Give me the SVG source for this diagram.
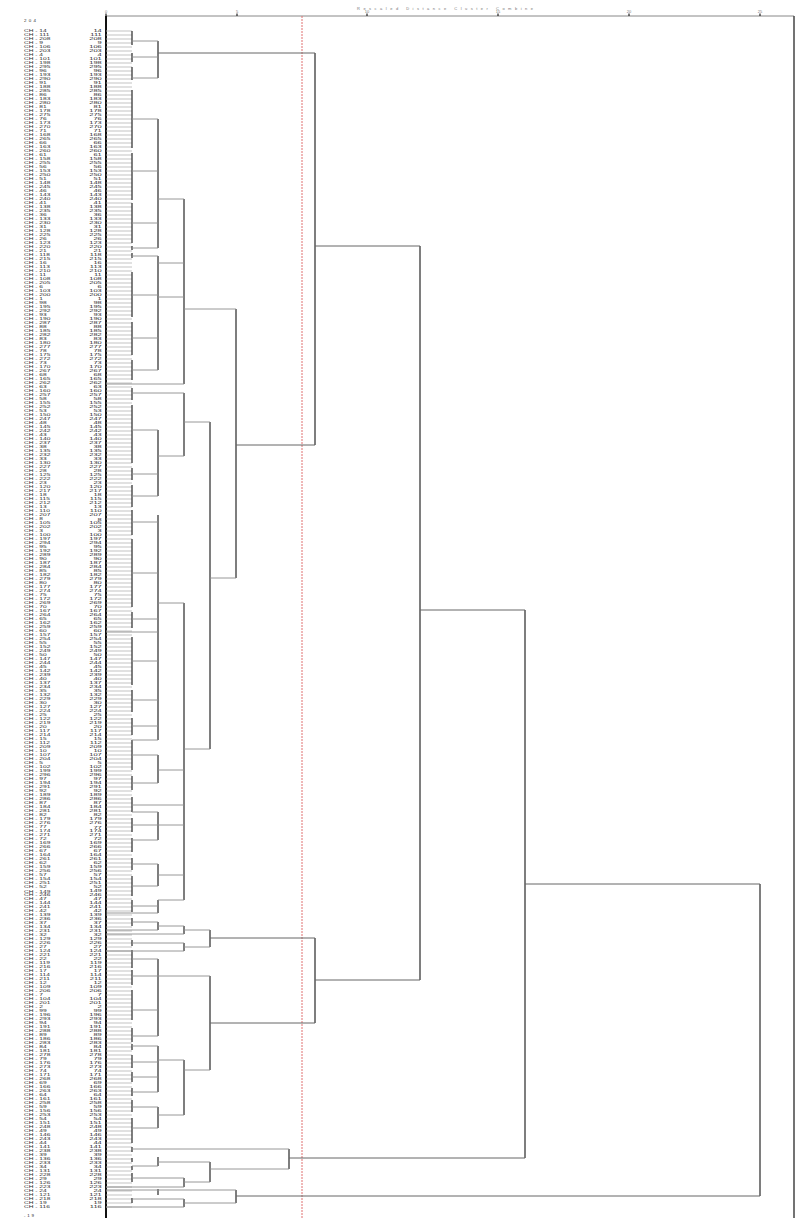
<svg xmlns="http://www.w3.org/2000/svg" width="800" height="1218" viewBox="0 0 800 1218">
<style>
text{font-family:"Liberation Sans",Arial,sans-serif;font-size:4.4px;fill:#2a2a2a}
#leaves text{transform-box:fill-box;transform-origin:0% 50%;transform:scaleX(1.5)}
#leaves text.n{text-anchor:end;transform-origin:100% 50%;transform:scaleX(1.7)}
.ax{fill:#777;font-size:4px}
.v{stroke:#3a3a3a;stroke-width:1.3;fill:none}
.h{stroke:#8c8c8c;stroke-width:0.9;fill:none}
.hm{stroke:#666;stroke-width:1;fill:none}
</style>
<defs>
<pattern id="rows" x="0" y="29" width="26" height="4" patternUnits="userSpaceOnUse">
<line x1="0" y1="2" x2="26" y2="2" stroke="#b4b4b4" stroke-width="0.8"/>
</pattern>
</defs>
<rect width="800" height="1218" fill="#fff"/>
<g id="axis">
<text class="ax" x="357" y="9.5" textLength="176" lengthAdjust="spacing">Rescaled Distance Cluster Combine</text>
<line x1="106" y1="16" x2="794" y2="16" stroke="#888" stroke-width="1"/>
<path d="M106 13.5V16M237 13.5V16M367 13.5V16M498 13.5V16M629 13.5V16M760 13.5V16" stroke="#222" stroke-width="1.2"/>
<text class="ax" x="106" y="12.5" text-anchor="middle">0</text>
<text class="ax" x="237" y="12.5" text-anchor="middle">5</text>
<text class="ax" x="367" y="12.5" text-anchor="middle">10</text>
<text class="ax" x="498" y="12.5" text-anchor="middle">15</text>
<text class="ax" x="629" y="12.5" text-anchor="middle">20</text>
<text class="ax" x="760" y="12.5" text-anchor="middle">25</text>
<line x1="106" y1="16" x2="106" y2="1218" stroke="#111" stroke-width="2"/>
<line x1="794" y1="16" x2="794" y2="1218" stroke="#444" stroke-width="1.5"/>
<line x1="302" y1="16" x2="302" y2="1218" stroke="#e07070" stroke-width="1" stroke-dasharray="2 1"/>
<text x="24" y="21.5" textLength="12">204</text>
<text x="24" y="1217" textLength="10">-19</text>
</g>
<g id="connectors">
<rect x="106" y="29" width="26" height="1180" fill="url(#rows)"/>
<path class="v" d="M132 31V45M132 53V62M132 67V80M132 90V148M132 153V200M132 203V243M132 246V250M132 253V258M132 272V317M132 322V355M132 360V380M132 388V400M132 405V463M132 468V480M132 485V507M132 510V535M132 539V607M132 612V628M132 637V685M132 690V712M132 718V735M132 740V770M132 776V790M132 797V812M132 818V832M132 838V852M132 858V870M132 876V896M132 900V912M132 918V926M132 940V946M132 950V968M132 970V985M132 990V1020M132 1028V1042M132 1044V1050M132 1055V1068M132 1072V1082M132 1088V1096M132 1100V1112M132 1118V1143M132 1147V1152M132 1158V1162M132 1166V1170M132 1173V1182M132 1198V1203"/>
<path class="v" d="M158 41V78M158 119V248M158 256V370M158 430V496M158 515V740M158 755V783M158 812V840M158 864V886M158 900V913M158 922V930M158 959V1036M158 1046V1092M158 1107V1128M158 1157V1166M158 1189V1195"/>
<path class="v" d="M184 199V384M184 393V456M184 603V900M184 926V934M184 943V951M184 1060V1115M184 1178V1187M184 1199V1207"/>
<path class="v" d="M210 422V749M210 930V947M210 976V1070M210 1162V1182M236 309V578M236 1190V1203M289 1149V1169M315 53V445M315 938V1023"/>
<path class="v" d="M420 246V980M525 610V1158M760 884V1196"/>
<path class="h" d="M132 41H158M132 57H158M132 78H158M132 119H158M132 171H158M132 223H158M132 248H158M132 256H158M132 295H158M132 338H158M132 370H158M132 430H158M132 474H158M132 496H158M132 522H158M132 573H158M132 619H158M132 661H158M132 700H158M132 726H158M132 740H158M132 755H158M132 783H158M132 805H184M132 812H158M132 825H158M132 840H158M132 864H158M132 886H158M132 906H158M132 922H158M132 959H158M132 1010H158M132 1036H158M132 1046H158M132 1062H158M132 1077H158M132 1092H158M132 1107H158M132 1128H158M132 1166H158"/>
<path class="h" d="M106 632H158M106 913H158M106 930H158M106 1190H158M132 393H184M132 943H184M132 1178H184M132 1199H184M106 384H184M106 934H184M106 951H184M106 1187H184M106 1207H184M132 976H210M132 1149H289"/>
<path class="h" d="M158 199H184M158 263H184M158 297H184M158 456H184M158 603H184M158 770H184M158 825H184M158 875H184M158 900H184M158 926H184M158 1060H184M158 1115H184M158 1162H210M158 1190H236M184 422H210M184 749H210M184 930H210M184 947H210M184 1070H210M184 1182H210M184 309H236M184 1203H236M210 578H236M210 1169H289"/>
<path class="hm" d="M158 53H315M210 938H315M210 1023H315M236 445H315M236 1196H760M289 1158H525M315 246H420M315 980H420M420 610H525M525 884H760"/>
</g>
<g id="leaves">
<g id="L0"><text x="24" y="32.5">CH - 14</text><text class="n" x="102" y="32.5">14</text></g>
<g id="L1"><text x="24" y="36.5">CH - 111</text><text class="n" x="102" y="36.5">111</text></g>
<g id="L2"><text x="24" y="40.5">CH - 208</text><text class="n" x="102" y="40.5">208</text></g>
<g id="L3"><text x="24" y="44.5">CH - 9</text><text class="n" x="102" y="44.5">9</text></g>
<g id="L4"><text x="24" y="48.5">CH - 106</text><text class="n" x="102" y="48.5">106</text></g>
<g id="L5"><text x="24" y="52.5">CH - 203</text><text class="n" x="102" y="52.5">203</text></g>
<g id="L6"><text x="24" y="56.5">CH - 4</text><text class="n" x="102" y="56.5">4</text></g>
<g id="L7"><text x="24" y="60.5">CH - 101</text><text class="n" x="102" y="60.5">101</text></g>
<g id="L8"><text x="24" y="64.5">CH - 198</text><text class="n" x="102" y="64.5">198</text></g>
<g id="L9"><text x="24" y="68.5">CH - 295</text><text class="n" x="102" y="68.5">295</text></g>
<g id="L10"><text x="24" y="72.5">CH - 96</text><text class="n" x="102" y="72.5">96</text></g>
<g id="L11"><text x="24" y="76.5">CH - 193</text><text class="n" x="102" y="76.5">193</text></g>
<g id="L12"><text x="24" y="80.5">CH - 290</text><text class="n" x="102" y="80.5">290</text></g>
<g id="L13"><text x="24" y="84.5">CH - 91</text><text class="n" x="102" y="84.5">91</text></g>
<g id="L14"><text x="24" y="88.5">CH - 188</text><text class="n" x="102" y="88.5">188</text></g>
<g id="L15"><text x="24" y="92.5">CH - 285</text><text class="n" x="102" y="92.5">285</text></g>
<g id="L16"><text x="24" y="96.5">CH - 86</text><text class="n" x="102" y="96.5">86</text></g>
<g id="L17"><text x="24" y="100.5">CH - 183</text><text class="n" x="102" y="100.5">183</text></g>
<g id="L18"><text x="24" y="104.5">CH - 280</text><text class="n" x="102" y="104.5">280</text></g>
<g id="L19"><text x="24" y="108.5">CH - 81</text><text class="n" x="102" y="108.5">81</text></g>
<g id="L20"><text x="24" y="112.5">CH - 178</text><text class="n" x="102" y="112.5">178</text></g>
<g id="L21"><text x="24" y="116.5">CH - 275</text><text class="n" x="102" y="116.5">275</text></g>
<g id="L22"><text x="24" y="120.5">CH - 76</text><text class="n" x="102" y="120.5">76</text></g>
<g id="L23"><text x="24" y="124.5">CH - 173</text><text class="n" x="102" y="124.5">173</text></g>
<g id="L24"><text x="24" y="128.5">CH - 270</text><text class="n" x="102" y="128.5">270</text></g>
<g id="L25"><text x="24" y="132.5">CH - 71</text><text class="n" x="102" y="132.5">71</text></g>
<g id="L26"><text x="24" y="136.5">CH - 168</text><text class="n" x="102" y="136.5">168</text></g>
<g id="L27"><text x="24" y="140.5">CH - 265</text><text class="n" x="102" y="140.5">265</text></g>
<g id="L28"><text x="24" y="144.5">CH - 66</text><text class="n" x="102" y="144.5">66</text></g>
<g id="L29"><text x="24" y="148.5">CH - 163</text><text class="n" x="102" y="148.5">163</text></g>
<g id="L30"><text x="24" y="152.5">CH - 260</text><text class="n" x="102" y="152.5">260</text></g>
<g id="L31"><text x="24" y="156.5">CH - 61</text><text class="n" x="102" y="156.5">61</text></g>
<g id="L32"><text x="24" y="160.5">CH - 158</text><text class="n" x="102" y="160.5">158</text></g>
<g id="L33"><text x="24" y="164.5">CH - 255</text><text class="n" x="102" y="164.5">255</text></g>
<g id="L34"><text x="24" y="168.5">CH - 56</text><text class="n" x="102" y="168.5">56</text></g>
<g id="L35"><text x="24" y="172.5">CH - 153</text><text class="n" x="102" y="172.5">153</text></g>
<g id="L36"><text x="24" y="176.5">CH - 250</text><text class="n" x="102" y="176.5">250</text></g>
<g id="L37"><text x="24" y="180.5">CH - 51</text><text class="n" x="102" y="180.5">51</text></g>
<g id="L38"><text x="24" y="184.5">CH - 148</text><text class="n" x="102" y="184.5">148</text></g>
<g id="L39"><text x="24" y="188.5">CH - 245</text><text class="n" x="102" y="188.5">245</text></g>
<g id="L40"><text x="24" y="192.5">CH - 46</text><text class="n" x="102" y="192.5">46</text></g>
<g id="L41"><text x="24" y="196.5">CH - 143</text><text class="n" x="102" y="196.5">143</text></g>
<g id="L42"><text x="24" y="200.5">CH - 240</text><text class="n" x="102" y="200.5">240</text></g>
<g id="L43"><text x="24" y="204.5">CH - 41</text><text class="n" x="102" y="204.5">41</text></g>
<g id="L44"><text x="24" y="208.5">CH - 138</text><text class="n" x="102" y="208.5">138</text></g>
<g id="L45"><text x="24" y="212.5">CH - 235</text><text class="n" x="102" y="212.5">235</text></g>
<g id="L46"><text x="24" y="216.5">CH - 36</text><text class="n" x="102" y="216.5">36</text></g>
<g id="L47"><text x="24" y="220.5">CH - 133</text><text class="n" x="102" y="220.5">133</text></g>
<g id="L48"><text x="24" y="224.5">CH - 230</text><text class="n" x="102" y="224.5">230</text></g>
<g id="L49"><text x="24" y="228.5">CH - 31</text><text class="n" x="102" y="228.5">31</text></g>
<g id="L50"><text x="24" y="232.5">CH - 128</text><text class="n" x="102" y="232.5">128</text></g>
<g id="L51"><text x="24" y="236.5">CH - 225</text><text class="n" x="102" y="236.5">225</text></g>
<g id="L52"><text x="24" y="240.5">CH - 26</text><text class="n" x="102" y="240.5">26</text></g>
<g id="L53"><text x="24" y="244.5">CH - 123</text><text class="n" x="102" y="244.5">123</text></g>
<g id="L54"><text x="24" y="248.5">CH - 220</text><text class="n" x="102" y="248.5">220</text></g>
<g id="L55"><text x="24" y="252.5">CH - 21</text><text class="n" x="102" y="252.5">21</text></g>
<g id="L56"><text x="24" y="256.5">CH - 118</text><text class="n" x="102" y="256.5">118</text></g>
<g id="L57"><text x="24" y="260.5">CH - 215</text><text class="n" x="102" y="260.5">215</text></g>
<g id="L58"><text x="24" y="264.5">CH - 16</text><text class="n" x="102" y="264.5">16</text></g>
<g id="L59"><text x="24" y="268.5">CH - 113</text><text class="n" x="102" y="268.5">113</text></g>
<g id="L60"><text x="24" y="272.5">CH - 210</text><text class="n" x="102" y="272.5">210</text></g>
<g id="L61"><text x="24" y="276.5">CH - 11</text><text class="n" x="102" y="276.5">11</text></g>
<g id="L62"><text x="24" y="280.5">CH - 108</text><text class="n" x="102" y="280.5">108</text></g>
<g id="L63"><text x="24" y="284.5">CH - 205</text><text class="n" x="102" y="284.5">205</text></g>
<g id="L64"><text x="24" y="288.5">CH - 6</text><text class="n" x="102" y="288.5">6</text></g>
<g id="L65"><text x="24" y="292.5">CH - 103</text><text class="n" x="102" y="292.5">103</text></g>
<g id="L66"><text x="24" y="296.5">CH - 200</text><text class="n" x="102" y="296.5">200</text></g>
<g id="L67"><text x="24" y="300.5">CH - 1</text><text class="n" x="102" y="300.5">1</text></g>
<g id="L68"><text x="24" y="304.5">CH - 98</text><text class="n" x="102" y="304.5">98</text></g>
<g id="L69"><text x="24" y="308.5">CH - 195</text><text class="n" x="102" y="308.5">195</text></g>
<g id="L70"><text x="24" y="312.5">CH - 292</text><text class="n" x="102" y="312.5">292</text></g>
<g id="L71"><text x="24" y="316.5">CH - 93</text><text class="n" x="102" y="316.5">93</text></g>
<g id="L72"><text x="24" y="320.5">CH - 190</text><text class="n" x="102" y="320.5">190</text></g>
<g id="L73"><text x="24" y="324.5">CH - 287</text><text class="n" x="102" y="324.5">287</text></g>
<g id="L74"><text x="24" y="328.5">CH - 88</text><text class="n" x="102" y="328.5">88</text></g>
<g id="L75"><text x="24" y="332.5">CH - 185</text><text class="n" x="102" y="332.5">185</text></g>
<g id="L76"><text x="24" y="336.5">CH - 282</text><text class="n" x="102" y="336.5">282</text></g>
<g id="L77"><text x="24" y="340.5">CH - 83</text><text class="n" x="102" y="340.5">83</text></g>
<g id="L78"><text x="24" y="344.5">CH - 180</text><text class="n" x="102" y="344.5">180</text></g>
<g id="L79"><text x="24" y="348.5">CH - 277</text><text class="n" x="102" y="348.5">277</text></g>
<g id="L80"><text x="24" y="352.5">CH - 78</text><text class="n" x="102" y="352.5">78</text></g>
<g id="L81"><text x="24" y="356.5">CH - 175</text><text class="n" x="102" y="356.5">175</text></g>
<g id="L82"><text x="24" y="360.5">CH - 272</text><text class="n" x="102" y="360.5">272</text></g>
<g id="L83"><text x="24" y="364.5">CH - 73</text><text class="n" x="102" y="364.5">73</text></g>
<g id="L84"><text x="24" y="368.5">CH - 170</text><text class="n" x="102" y="368.5">170</text></g>
<g id="L85"><text x="24" y="372.5">CH - 267</text><text class="n" x="102" y="372.5">267</text></g>
<g id="L86"><text x="24" y="376.5">CH - 68</text><text class="n" x="102" y="376.5">68</text></g>
<g id="L87"><text x="24" y="380.5">CH - 165</text><text class="n" x="102" y="380.5">165</text></g>
<g id="L88"><text x="24" y="384.5">CH - 262</text><text class="n" x="102" y="384.5">262</text></g>
<g id="L89"><text x="24" y="388.5">CH - 63</text><text class="n" x="102" y="388.5">63</text></g>
<g id="L90"><text x="24" y="392.5">CH - 160</text><text class="n" x="102" y="392.5">160</text></g>
<g id="L91"><text x="24" y="396.5">CH - 257</text><text class="n" x="102" y="396.5">257</text></g>
<g id="L92"><text x="24" y="400.5">CH - 58</text><text class="n" x="102" y="400.5">58</text></g>
<g id="L93"><text x="24" y="404.5">CH - 155</text><text class="n" x="102" y="404.5">155</text></g>
<g id="L94"><text x="24" y="408.5">CH - 252</text><text class="n" x="102" y="408.5">252</text></g>
<g id="L95"><text x="24" y="412.5">CH - 53</text><text class="n" x="102" y="412.5">53</text></g>
<g id="L96"><text x="24" y="416.5">CH - 150</text><text class="n" x="102" y="416.5">150</text></g>
<g id="L97"><text x="24" y="420.5">CH - 247</text><text class="n" x="102" y="420.5">247</text></g>
<g id="L98"><text x="24" y="424.5">CH - 48</text><text class="n" x="102" y="424.5">48</text></g>
<g id="L99"><text x="24" y="428.5">CH - 145</text><text class="n" x="102" y="428.5">145</text></g>
<g id="L100"><text x="24" y="432.5">CH - 242</text><text class="n" x="102" y="432.5">242</text></g>
<g id="L101"><text x="24" y="436.5">CH - 43</text><text class="n" x="102" y="436.5">43</text></g>
<g id="L102"><text x="24" y="440.5">CH - 140</text><text class="n" x="102" y="440.5">140</text></g>
<g id="L103"><text x="24" y="444.5">CH - 237</text><text class="n" x="102" y="444.5">237</text></g>
<g id="L104"><text x="24" y="448.5">CH - 38</text><text class="n" x="102" y="448.5">38</text></g>
<g id="L105"><text x="24" y="452.5">CH - 135</text><text class="n" x="102" y="452.5">135</text></g>
<g id="L106"><text x="24" y="456.5">CH - 232</text><text class="n" x="102" y="456.5">232</text></g>
<g id="L107"><text x="24" y="460.5">CH - 33</text><text class="n" x="102" y="460.5">33</text></g>
<g id="L108"><text x="24" y="464.5">CH - 130</text><text class="n" x="102" y="464.5">130</text></g>
<g id="L109"><text x="24" y="468.5">CH - 227</text><text class="n" x="102" y="468.5">227</text></g>
<g id="L110"><text x="24" y="472.5">CH - 28</text><text class="n" x="102" y="472.5">28</text></g>
<g id="L111"><text x="24" y="476.5">CH - 125</text><text class="n" x="102" y="476.5">125</text></g>
<g id="L112"><text x="24" y="480.5">CH - 222</text><text class="n" x="102" y="480.5">222</text></g>
<g id="L113"><text x="24" y="484.5">CH - 23</text><text class="n" x="102" y="484.5">23</text></g>
<g id="L114"><text x="24" y="488.5">CH - 120</text><text class="n" x="102" y="488.5">120</text></g>
<g id="L115"><text x="24" y="492.5">CH - 217</text><text class="n" x="102" y="492.5">217</text></g>
<g id="L116"><text x="24" y="496.5">CH - 18</text><text class="n" x="102" y="496.5">18</text></g>
<g id="L117"><text x="24" y="500.5">CH - 115</text><text class="n" x="102" y="500.5">115</text></g>
<g id="L118"><text x="24" y="504.5">CH - 212</text><text class="n" x="102" y="504.5">212</text></g>
<g id="L119"><text x="24" y="508.5">CH - 13</text><text class="n" x="102" y="508.5">13</text></g>
<g id="L120"><text x="24" y="512.5">CH - 110</text><text class="n" x="102" y="512.5">110</text></g>
<g id="L121"><text x="24" y="516.5">CH - 207</text><text class="n" x="102" y="516.5">207</text></g>
<g id="L122"><text x="24" y="520.5">CH - 8</text><text class="n" x="102" y="520.5">8</text></g>
<g id="L123"><text x="24" y="524.5">CH - 105</text><text class="n" x="102" y="524.5">105</text></g>
<g id="L124"><text x="24" y="528.5">CH - 202</text><text class="n" x="102" y="528.5">202</text></g>
<g id="L125"><text x="24" y="532.5">CH - 3</text><text class="n" x="102" y="532.5">3</text></g>
<g id="L126"><text x="24" y="536.5">CH - 100</text><text class="n" x="102" y="536.5">100</text></g>
<g id="L127"><text x="24" y="540.5">CH - 197</text><text class="n" x="102" y="540.5">197</text></g>
<g id="L128"><text x="24" y="544.5">CH - 294</text><text class="n" x="102" y="544.5">294</text></g>
<g id="L129"><text x="24" y="548.5">CH - 95</text><text class="n" x="102" y="548.5">95</text></g>
<g id="L130"><text x="24" y="552.5">CH - 192</text><text class="n" x="102" y="552.5">192</text></g>
<g id="L131"><text x="24" y="556.5">CH - 289</text><text class="n" x="102" y="556.5">289</text></g>
<g id="L132"><text x="24" y="560.5">CH - 90</text><text class="n" x="102" y="560.5">90</text></g>
<g id="L133"><text x="24" y="564.5">CH - 187</text><text class="n" x="102" y="564.5">187</text></g>
<g id="L134"><text x="24" y="568.5">CH - 284</text><text class="n" x="102" y="568.5">284</text></g>
<g id="L135"><text x="24" y="572.5">CH - 85</text><text class="n" x="102" y="572.5">85</text></g>
<g id="L136"><text x="24" y="576.5">CH - 182</text><text class="n" x="102" y="576.5">182</text></g>
<g id="L137"><text x="24" y="580.5">CH - 279</text><text class="n" x="102" y="580.5">279</text></g>
<g id="L138"><text x="24" y="584.5">CH - 80</text><text class="n" x="102" y="584.5">80</text></g>
<g id="L139"><text x="24" y="588.5">CH - 177</text><text class="n" x="102" y="588.5">177</text></g>
<g id="L140"><text x="24" y="592.5">CH - 274</text><text class="n" x="102" y="592.5">274</text></g>
<g id="L141"><text x="24" y="596.5">CH - 75</text><text class="n" x="102" y="596.5">75</text></g>
<g id="L142"><text x="24" y="600.5">CH - 172</text><text class="n" x="102" y="600.5">172</text></g>
<g id="L143"><text x="24" y="604.5">CH - 269</text><text class="n" x="102" y="604.5">269</text></g>
<g id="L144"><text x="24" y="608.5">CH - 70</text><text class="n" x="102" y="608.5">70</text></g>
<g id="L145"><text x="24" y="612.5">CH - 167</text><text class="n" x="102" y="612.5">167</text></g>
<g id="L146"><text x="24" y="616.5">CH - 264</text><text class="n" x="102" y="616.5">264</text></g>
<g id="L147"><text x="24" y="620.5">CH - 65</text><text class="n" x="102" y="620.5">65</text></g>
<g id="L148"><text x="24" y="624.5">CH - 162</text><text class="n" x="102" y="624.5">162</text></g>
<g id="L149"><text x="24" y="628.5">CH - 259</text><text class="n" x="102" y="628.5">259</text></g>
<g id="L150"><text x="24" y="632.5">CH - 60</text><text class="n" x="102" y="632.5">60</text></g>
<g id="L151"><text x="24" y="636.5">CH - 157</text><text class="n" x="102" y="636.5">157</text></g>
<g id="L152"><text x="24" y="640.5">CH - 254</text><text class="n" x="102" y="640.5">254</text></g>
<g id="L153"><text x="24" y="644.5">CH - 55</text><text class="n" x="102" y="644.5">55</text></g>
<g id="L154"><text x="24" y="648.5">CH - 152</text><text class="n" x="102" y="648.5">152</text></g>
<g id="L155"><text x="24" y="652.5">CH - 249</text><text class="n" x="102" y="652.5">249</text></g>
<g id="L156"><text x="24" y="656.5">CH - 50</text><text class="n" x="102" y="656.5">50</text></g>
<g id="L157"><text x="24" y="660.5">CH - 147</text><text class="n" x="102" y="660.5">147</text></g>
<g id="L158"><text x="24" y="664.5">CH - 244</text><text class="n" x="102" y="664.5">244</text></g>
<g id="L159"><text x="24" y="668.5">CH - 45</text><text class="n" x="102" y="668.5">45</text></g>
<g id="L160"><text x="24" y="672.5">CH - 142</text><text class="n" x="102" y="672.5">142</text></g>
<g id="L161"><text x="24" y="676.5">CH - 239</text><text class="n" x="102" y="676.5">239</text></g>
<g id="L162"><text x="24" y="680.5">CH - 40</text><text class="n" x="102" y="680.5">40</text></g>
<g id="L163"><text x="24" y="684.5">CH - 137</text><text class="n" x="102" y="684.5">137</text></g>
<g id="L164"><text x="24" y="688.5">CH - 234</text><text class="n" x="102" y="688.5">234</text></g>
<g id="L165"><text x="24" y="692.5">CH - 35</text><text class="n" x="102" y="692.5">35</text></g>
<g id="L166"><text x="24" y="696.5">CH - 132</text><text class="n" x="102" y="696.5">132</text></g>
<g id="L167"><text x="24" y="700.5">CH - 229</text><text class="n" x="102" y="700.5">229</text></g>
<g id="L168"><text x="24" y="704.5">CH - 30</text><text class="n" x="102" y="704.5">30</text></g>
<g id="L169"><text x="24" y="708.5">CH - 127</text><text class="n" x="102" y="708.5">127</text></g>
<g id="L170"><text x="24" y="712.5">CH - 224</text><text class="n" x="102" y="712.5">224</text></g>
<g id="L171"><text x="24" y="716.5">CH - 25</text><text class="n" x="102" y="716.5">25</text></g>
<g id="L172"><text x="24" y="720.5">CH - 122</text><text class="n" x="102" y="720.5">122</text></g>
<g id="L173"><text x="24" y="724.5">CH - 219</text><text class="n" x="102" y="724.5">219</text></g>
<g id="L174"><text x="24" y="728.5">CH - 20</text><text class="n" x="102" y="728.5">20</text></g>
<g id="L175"><text x="24" y="732.5">CH - 117</text><text class="n" x="102" y="732.5">117</text></g>
<g id="L176"><text x="24" y="736.5">CH - 214</text><text class="n" x="102" y="736.5">214</text></g>
<g id="L177"><text x="24" y="740.5">CH - 15</text><text class="n" x="102" y="740.5">15</text></g>
<g id="L178"><text x="24" y="744.5">CH - 112</text><text class="n" x="102" y="744.5">112</text></g>
<g id="L179"><text x="24" y="748.5">CH - 209</text><text class="n" x="102" y="748.5">209</text></g>
<g id="L180"><text x="24" y="752.5">CH - 10</text><text class="n" x="102" y="752.5">10</text></g>
<g id="L181"><text x="24" y="756.5">CH - 107</text><text class="n" x="102" y="756.5">107</text></g>
<g id="L182"><text x="24" y="760.5">CH - 204</text><text class="n" x="102" y="760.5">204</text></g>
<g id="L183"><text x="24" y="764.5">CH - 5</text><text class="n" x="102" y="764.5">5</text></g>
<g id="L184"><text x="24" y="768.5">CH - 102</text><text class="n" x="102" y="768.5">102</text></g>
<g id="L185"><text x="24" y="772.5">CH - 199</text><text class="n" x="102" y="772.5">199</text></g>
<g id="L186"><text x="24" y="776.5">CH - 296</text><text class="n" x="102" y="776.5">296</text></g>
<g id="L187"><text x="24" y="780.5">CH - 97</text><text class="n" x="102" y="780.5">97</text></g>
<g id="L188"><text x="24" y="784.5">CH - 194</text><text class="n" x="102" y="784.5">194</text></g>
<g id="L189"><text x="24" y="788.5">CH - 291</text><text class="n" x="102" y="788.5">291</text></g>
<g id="L190"><text x="24" y="792.5">CH - 92</text><text class="n" x="102" y="792.5">92</text></g>
<g id="L191"><text x="24" y="796.5">CH - 189</text><text class="n" x="102" y="796.5">189</text></g>
<g id="L192"><text x="24" y="800.5">CH - 286</text><text class="n" x="102" y="800.5">286</text></g>
<g id="L193"><text x="24" y="804.5">CH - 87</text><text class="n" x="102" y="804.5">87</text></g>
<g id="L194"><text x="24" y="808.5">CH - 184</text><text class="n" x="102" y="808.5">184</text></g>
<g id="L195"><text x="24" y="812.5">CH - 281</text><text class="n" x="102" y="812.5">281</text></g>
<g id="L196"><text x="24" y="816.5">CH - 82</text><text class="n" x="102" y="816.5">82</text></g>
<g id="L197"><text x="24" y="820.5">CH - 179</text><text class="n" x="102" y="820.5">179</text></g>
<g id="L198"><text x="24" y="824.5">CH - 276</text><text class="n" x="102" y="824.5">276</text></g>
<g id="L199"><text x="24" y="828.5">CH - 77</text><text class="n" x="102" y="828.5">77</text></g>
<g id="L200"><text x="24" y="832.5">CH - 174</text><text class="n" x="102" y="832.5">174</text></g>
<g id="L201"><text x="24" y="836.5">CH - 271</text><text class="n" x="102" y="836.5">271</text></g>
<g id="L202"><text x="24" y="840.5">CH - 72</text><text class="n" x="102" y="840.5">72</text></g>
<g id="L203"><text x="24" y="844.5">CH - 169</text><text class="n" x="102" y="844.5">169</text></g>
<g id="L204"><text x="24" y="848.5">CH - 266</text><text class="n" x="102" y="848.5">266</text></g>
<g id="L205"><text x="24" y="852.5">CH - 67</text><text class="n" x="102" y="852.5">67</text></g>
<g id="L206"><text x="24" y="856.5">CH - 164</text><text class="n" x="102" y="856.5">164</text></g>
<g id="L207"><text x="24" y="860.5">CH - 261</text><text class="n" x="102" y="860.5">261</text></g>
<g id="L208"><text x="24" y="864.5">CH - 62</text><text class="n" x="102" y="864.5">62</text></g>
<g id="L209"><text x="24" y="868.5">CH - 159</text><text class="n" x="102" y="868.5">159</text></g>
<g id="L210"><text x="24" y="872.5">CH - 256</text><text class="n" x="102" y="872.5">256</text></g>
<g id="L211"><text x="24" y="876.5">CH - 57</text><text class="n" x="102" y="876.5">57</text></g>
<g id="L212"><text x="24" y="880.5">CH - 154</text><text class="n" x="102" y="880.5">154</text></g>
<g id="L213"><text x="24" y="884.5">CH - 251</text><text class="n" x="102" y="884.5">251</text></g>
<g id="L214"><text x="24" y="888.5">CH - 52</text><text class="n" x="102" y="888.5">52</text></g>
<g id="L215"><text x="24" y="892.5">CH - 149</text><text class="n" x="102" y="892.5">149</text></g>
<g id="L216"><text x="24" y="896.5">CH - 246</text><text class="n" x="102" y="896.5">246</text></g>
<g id="L217"><text x="24" y="900.5">CH - 47</text><text class="n" x="102" y="900.5">47</text></g>
<g id="L218"><text x="24" y="904.5">CH - 144</text><text class="n" x="102" y="904.5">144</text></g>
<g id="L219"><text x="24" y="908.5">CH - 241</text><text class="n" x="102" y="908.5">241</text></g>
<g id="L220"><text x="24" y="912.5">CH - 42</text><text class="n" x="102" y="912.5">42</text></g>
<g id="L221"><text x="24" y="916.5">CH - 139</text><text class="n" x="102" y="916.5">139</text></g>
<g id="L222"><text x="24" y="920.5">CH - 236</text><text class="n" x="102" y="920.5">236</text></g>
<g id="L223"><text x="24" y="924.5">CH - 37</text><text class="n" x="102" y="924.5">37</text></g>
<g id="L224"><text x="24" y="928.5">CH - 134</text><text class="n" x="102" y="928.5">134</text></g>
<g id="L225"><text x="24" y="932.5">CH - 231</text><text class="n" x="102" y="932.5">231</text></g>
<g id="L226"><text x="24" y="936.5">CH - 32</text><text class="n" x="102" y="936.5">32</text></g>
<g id="L227"><text x="24" y="940.5">CH - 129</text><text class="n" x="102" y="940.5">129</text></g>
<g id="L228"><text x="24" y="944.5">CH - 226</text><text class="n" x="102" y="944.5">226</text></g>
<g id="L229"><text x="24" y="948.5">CH - 27</text><text class="n" x="102" y="948.5">27</text></g>
<g id="L230"><text x="24" y="952.5">CH - 124</text><text class="n" x="102" y="952.5">124</text></g>
<g id="L231"><text x="24" y="956.5">CH - 221</text><text class="n" x="102" y="956.5">221</text></g>
<g id="L232"><text x="24" y="960.5">CH - 22</text><text class="n" x="102" y="960.5">22</text></g>
<g id="L233"><text x="24" y="964.5">CH - 119</text><text class="n" x="102" y="964.5">119</text></g>
<g id="L234"><text x="24" y="968.5">CH - 216</text><text class="n" x="102" y="968.5">216</text></g>
<g id="L235"><text x="24" y="972.5">CH - 17</text><text class="n" x="102" y="972.5">17</text></g>
<g id="L236"><text x="24" y="976.5">CH - 114</text><text class="n" x="102" y="976.5">114</text></g>
<g id="L237"><text x="24" y="980.5">CH - 211</text><text class="n" x="102" y="980.5">211</text></g>
<g id="L238"><text x="24" y="984.5">CH - 12</text><text class="n" x="102" y="984.5">12</text></g>
<g id="L239"><text x="24" y="988.5">CH - 109</text><text class="n" x="102" y="988.5">109</text></g>
<g id="L240"><text x="24" y="992.5">CH - 206</text><text class="n" x="102" y="992.5">206</text></g>
<g id="L241"><text x="24" y="996.5">CH - 7</text><text class="n" x="102" y="996.5">7</text></g>
<g id="L242"><text x="24" y="1000.5">CH - 104</text><text class="n" x="102" y="1000.5">104</text></g>
<g id="L243"><text x="24" y="1004.5">CH - 201</text><text class="n" x="102" y="1004.5">201</text></g>
<g id="L244"><text x="24" y="1008.5">CH - 2</text><text class="n" x="102" y="1008.5">2</text></g>
<g id="L245"><text x="24" y="1012.5">CH - 99</text><text class="n" x="102" y="1012.5">99</text></g>
<g id="L246"><text x="24" y="1016.5">CH - 196</text><text class="n" x="102" y="1016.5">196</text></g>
<g id="L247"><text x="24" y="1020.5">CH - 293</text><text class="n" x="102" y="1020.5">293</text></g>
<g id="L248"><text x="24" y="1024.5">CH - 94</text><text class="n" x="102" y="1024.5">94</text></g>
<g id="L249"><text x="24" y="1028.5">CH - 191</text><text class="n" x="102" y="1028.5">191</text></g>
<g id="L250"><text x="24" y="1032.5">CH - 288</text><text class="n" x="102" y="1032.5">288</text></g>
<g id="L251"><text x="24" y="1036.5">CH - 89</text><text class="n" x="102" y="1036.5">89</text></g>
<g id="L252"><text x="24" y="1040.5">CH - 186</text><text class="n" x="102" y="1040.5">186</text></g>
<g id="L253"><text x="24" y="1044.5">CH - 283</text><text class="n" x="102" y="1044.5">283</text></g>
<g id="L254"><text x="24" y="1048.5">CH - 84</text><text class="n" x="102" y="1048.5">84</text></g>
<g id="L255"><text x="24" y="1052.5">CH - 181</text><text class="n" x="102" y="1052.5">181</text></g>
<g id="L256"><text x="24" y="1056.5">CH - 278</text><text class="n" x="102" y="1056.5">278</text></g>
<g id="L257"><text x="24" y="1060.5">CH - 79</text><text class="n" x="102" y="1060.5">79</text></g>
<g id="L258"><text x="24" y="1064.5">CH - 176</text><text class="n" x="102" y="1064.5">176</text></g>
<g id="L259"><text x="24" y="1068.5">CH - 273</text><text class="n" x="102" y="1068.5">273</text></g>
<g id="L260"><text x="24" y="1072.5">CH - 74</text><text class="n" x="102" y="1072.5">74</text></g>
<g id="L261"><text x="24" y="1076.5">CH - 171</text><text class="n" x="102" y="1076.5">171</text></g>
<g id="L262"><text x="24" y="1080.5">CH - 268</text><text class="n" x="102" y="1080.5">268</text></g>
<g id="L263"><text x="24" y="1084.5">CH - 69</text><text class="n" x="102" y="1084.5">69</text></g>
<g id="L264"><text x="24" y="1088.5">CH - 166</text><text class="n" x="102" y="1088.5">166</text></g>
<g id="L265"><text x="24" y="1092.5">CH - 263</text><text class="n" x="102" y="1092.5">263</text></g>
<g id="L266"><text x="24" y="1096.5">CH - 64</text><text class="n" x="102" y="1096.5">64</text></g>
<g id="L267"><text x="24" y="1100.5">CH - 161</text><text class="n" x="102" y="1100.5">161</text></g>
<g id="L268"><text x="24" y="1104.5">CH - 258</text><text class="n" x="102" y="1104.5">258</text></g>
<g id="L269"><text x="24" y="1108.5">CH - 59</text><text class="n" x="102" y="1108.5">59</text></g>
<g id="L270"><text x="24" y="1112.5">CH - 156</text><text class="n" x="102" y="1112.5">156</text></g>
<g id="L271"><text x="24" y="1116.5">CH - 253</text><text class="n" x="102" y="1116.5">253</text></g>
<g id="L272"><text x="24" y="1120.5">CH - 54</text><text class="n" x="102" y="1120.5">54</text></g>
<g id="L273"><text x="24" y="1124.5">CH - 151</text><text class="n" x="102" y="1124.5">151</text></g>
<g id="L274"><text x="24" y="1128.5">CH - 248</text><text class="n" x="102" y="1128.5">248</text></g>
<g id="L275"><text x="24" y="1132.5">CH - 49</text><text class="n" x="102" y="1132.5">49</text></g>
<g id="L276"><text x="24" y="1136.5">CH - 146</text><text class="n" x="102" y="1136.5">146</text></g>
<g id="L277"><text x="24" y="1140.5">CH - 243</text><text class="n" x="102" y="1140.5">243</text></g>
<g id="L278"><text x="24" y="1144.5">CH - 44</text><text class="n" x="102" y="1144.5">44</text></g>
<g id="L279"><text x="24" y="1148.5">CH - 141</text><text class="n" x="102" y="1148.5">141</text></g>
<g id="L280"><text x="24" y="1152.5">CH - 238</text><text class="n" x="102" y="1152.5">238</text></g>
<g id="L281"><text x="24" y="1156.5">CH - 39</text><text class="n" x="102" y="1156.5">39</text></g>
<g id="L282"><text x="24" y="1160.5">CH - 136</text><text class="n" x="102" y="1160.5">136</text></g>
<g id="L283"><text x="24" y="1164.5">CH - 233</text><text class="n" x="102" y="1164.5">233</text></g>
<g id="L284"><text x="24" y="1168.5">CH - 34</text><text class="n" x="102" y="1168.5">34</text></g>
<g id="L285"><text x="24" y="1172.5">CH - 131</text><text class="n" x="102" y="1172.5">131</text></g>
<g id="L286"><text x="24" y="1176.5">CH - 228</text><text class="n" x="102" y="1176.5">228</text></g>
<g id="L287"><text x="24" y="1180.5">CH - 29</text><text class="n" x="102" y="1180.5">29</text></g>
<g id="L288"><text x="24" y="1184.5">CH - 126</text><text class="n" x="102" y="1184.5">126</text></g>
<g id="L289"><text x="24" y="1188.5">CH - 223</text><text class="n" x="102" y="1188.5">223</text></g>
<g id="L290"><text x="24" y="1192.5">CH - 24</text><text class="n" x="102" y="1192.5">24</text></g>
<g id="L291"><text x="24" y="1196.5">CH - 121</text><text class="n" x="102" y="1196.5">121</text></g>
<g id="L292"><text x="24" y="1200.5">CH - 218</text><text class="n" x="102" y="1200.5">218</text></g>
<g id="L293"><text x="24" y="1204.5">CH - 19</text><text class="n" x="102" y="1204.5">19</text></g>
<g id="L294"><text x="24" y="1208.5">CH - 116</text><text class="n" x="102" y="1208.5">116</text></g>
</g>
</svg>
